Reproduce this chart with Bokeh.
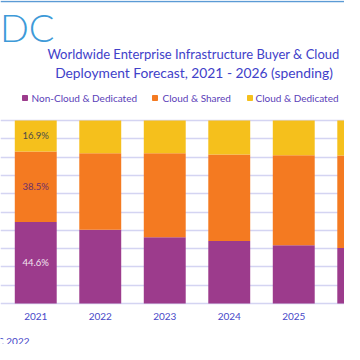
from bokeh.plotting import figure
from bokeh.models import ColumnDataSource, Range1d, FixedTicker
from bokeh.core.properties import value
from bokeh.embed import file_html
from bokeh.resources import INLINE

years = ["2021", "2022", "2023", "2024", "2025", "2026"]
non_cloud = [44.6, 40.3, 36.2, 34.2, 31.8, 30.3]
cloud_shared = [38.5, 41.8, 45.9, 47.2, 49.2, 50.6]
cloud_dedicated = [16.9, 17.9, 17.9, 18.6, 19.0, 19.1]
series_names = ["Non-Cloud & Dedicated", "Cloud & Shared", "Cloud & Dedicated"]
colors = ["#9c3b8c", "#f47a21", "#f5c01c"]
label_colors = ["#f3e6f1", "#6e2f6a", "#4a4a4a"]
labelled_years = ["2021", "2026"]
title_lines = ["Worldwide Enterprise Infrastructure Buyer & Cloud",
               "Deployment Forecast, 2021 - 2026 (spending)"]
source_text = "Source: IDC 2022"
grid_ticks = list(range(0, 101, 10))

W = H = 344
SPACING = 64.5           # px per category
PPU = 1.83               # px per percent
ZERO_PX = 303            # canvas y of 0 %
CAT0_PX = 35.25          # canvas x of first category

XS = -CAT0_PX / SPACING
YE = ZERO_PX / PPU
p = figure(width=W, height=H, output_backend="svg", toolbar_location=None,
           x_range=Range1d(XS, XS + W / SPACING),
           y_range=Range1d(YE - H / PPU, YE),
           x_axis_location=None, y_axis_location=None,
           min_border=0)
p.outline_line_color = None
p.background_fill_color = "white"
p.border_fill_color = "white"

def dx(px):
    return XS + px / SPACING

def dy(py):
    return YE - py / PPU

# top rule
p.hspan(y=[dy(0.8)], line_color="#5b9bd5", line_width=1.6)

# grid
p.xgrid.grid_line_color = None
p.ygrid.ticker = FixedTicker(ticks=grid_ticks)
p.ygrid.grid_line_color = "#d4d4f2"
p.ygrid.grid_line_width = 1.5

xs = list(range(len(years)))
src = ColumnDataSource(dict(x=xs, nc=non_cloud, cs=cloud_shared, cd=cloud_dedicated))
p.vbar_stack(["nc", "cs", "cd"], x="x", width=0.65, source=src, color=colors,
             line_color=None)

# data labels
lx, ly, lt, lc = [], [], [], []
for i, y in enumerate(years):
    if y not in labelled_years:
        continue
    base = 0
    for vals, c in zip([non_cloud, cloud_shared, cloud_dedicated], label_colors):
        v = vals[i]
        lx.append(i); ly.append(base + v / 2); lt.append(f"{v:.1f}%"); lc.append(c)
        base += v
p.text(x=lx, y=ly, text=lt, text_color=lc, text_align="center", text_baseline="middle",
       text_font=value("Lato"), text_font_size="9.5px")

# category labels
p.text(x=xs, y=[dy(316)] * len(xs), text=years, text_align="center", text_baseline="middle",
       text_color="#4848c8", text_font=value("Lato"), text_font_size="10px")

# logo
p.text(x=[dx(54)], y=[dy(26)], text=["IDC"], text_align="right", text_baseline="middle",
       text_color="#3d9ad8", text_font=value("Lato Light, Lato"), text_font_size="38px")
# title
p.text(x=[dx(193)], y=[dy(53)], text=[title_lines[0]], text_align="center",
       text_baseline="middle", text_color="#4141c9", text_font=value("Lato"),
       text_font_size="13px")
p.text(x=[dx(193.5)], y=[dy(72)], text=[title_lines[1]], text_align="center",
       text_baseline="middle", text_color="#4141c9", text_font=value("Lato"),
       text_font_size="13.8px")
# legend
p.scatter(x=[dx(24.5), dx(154.5), dx(249.5)], y=[dy(97.5)] * 3, marker="square", size=5,
          color=colors)
p.text(x=[dx(31), dx(162), dx(255)], y=[dy(97)] * 3, text=series_names, text_align="left",
       text_baseline="middle", text_color="#5a40b8", text_font=value("Lato"),
       text_font_size="10px")
# source
p.text(x=[dx(29)], y=[dy(340)], text=[source_text], text_align="right", text_baseline="middle",
       text_color="#4646c8", text_font=value("Lato"), text_font_size="10px")

open("out.html", "w").write(file_html(p, INLINE))
